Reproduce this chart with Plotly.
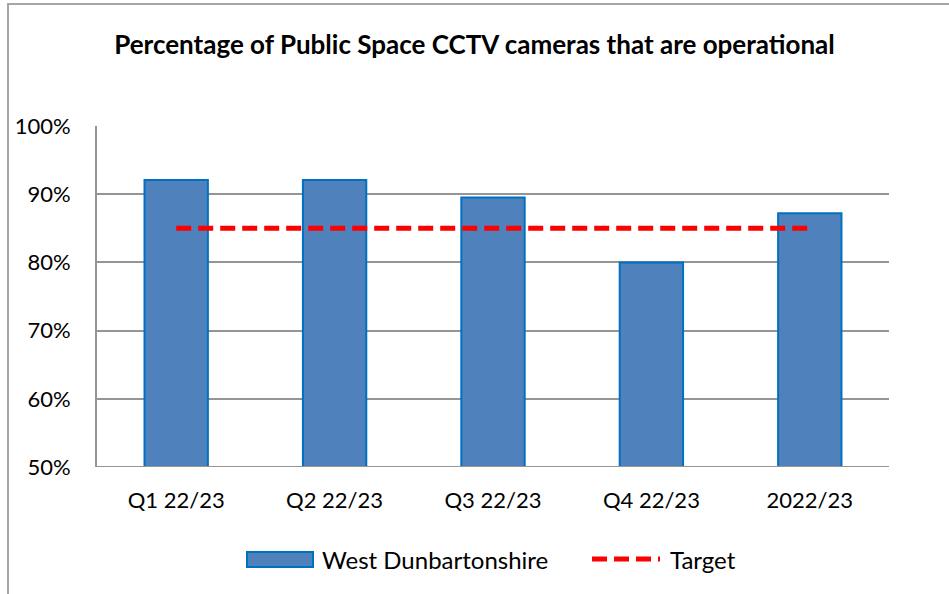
import plotly.graph_objects as go

categories = ["Q1 22/23", "Q2 22/23", "Q3 22/23", "Q4 22/23", "2022/23"]
west_dunbartonshire = [0.921, 0.921, 0.895, 0.80, 0.872]
target = [0.85, 0.85, 0.85, 0.85, 0.85]
y_ticks = [0.5, 0.6, 0.7, 0.8, 0.9, 1.0]
y_tick_labels = ["50%", "60%", "70%", "80%", "90%", "100%"]
series_names = ["West Dunbartonshire", "Target"]

FONT = "Lato, Carlito, Calibri, sans-serif"
BAR_FILL = "#4F81BD"
BAR_EDGE = "#0070C0"
TARGET_COLOR = "#FF0000"
GRID = "#959595"
DASH = "15px,7px"

W, H = 949, 594
L, R, T, B = 97, 60, 126, 127
pw = W - L - R
ph = H - T - B


def px(x):
    return (x - L) / pw


def py(y):
    return (H - B - y) / ph


fig = go.Figure()
fig.add_trace(go.Bar(
    x=categories, y=west_dunbartonshire, name=series_names[0],
    marker=dict(color=BAR_FILL, line=dict(color=BAR_EDGE, width=2)),
    width=0.4, showlegend=False,
))
fig.add_trace(go.Scatter(
    x=categories, y=target, name=series_names[1], mode="lines",
    line=dict(color=TARGET_COLOR, width=5, dash=DASH), showlegend=False,
))

legend_y = 559
shapes = [
    dict(type="line", xref="paper", yref="y", x0=0, x1=1, y0=0.5, y1=0.5,
         line=dict(color=GRID, width=2), layer="above"),
    dict(type="rect", xref="paper", yref="paper",
         x0=px(8), x1=px(W + 10), y0=py(H + 10), y1=py(4),
         line=dict(color="#A6A6A6", width=2), fillcolor="rgba(0,0,0,0)", layer="below"),
    # legend symbols
    dict(type="rect", xref="paper", yref="paper",
         x0=px(247), x1=px(313), y0=py(567), y1=py(552),
         line=dict(color=BAR_EDGE, width=2), fillcolor=BAR_FILL),
    dict(type="line", xref="paper", yref="paper",
         x0=px(592), x1=px(660), y0=py(legend_y), y1=py(legend_y),
         line=dict(color=TARGET_COLOR, width=5, dash=DASH)),
]
annotations = [
    dict(text=series_names[0], xref="paper", yref="paper", x=px(320), y=py(legend_y),
         xanchor="left", yanchor="middle", showarrow=False,
         font=dict(family=FONT, size=24, color="#000000")),
    dict(text=series_names[1], xref="paper", yref="paper", x=px(668), y=py(legend_y),
         xanchor="left", yanchor="middle", showarrow=False,
         font=dict(family=FONT, size=24, color="#000000")),
]

fig.update_layout(
    width=W, height=H,
    margin=dict(l=L, r=R, t=T, b=B),
    paper_bgcolor="white", plot_bgcolor="white",
    font=dict(family=FONT, size=22, color="#000000"),
    title=dict(text="<b>Percentage of Public Space CCTV cameras that are operational</b>",
               x=0.5, xanchor="center", y=1 - 45 / H, yanchor="middle",
               font=dict(family=FONT, size=26, color="#000000")),
    showlegend=False,
    xaxis=dict(showgrid=False, showline=False, ticks="", tickfont=dict(size=22),
               ticklabelstandoff=18, automargin=False),
    yaxis=dict(range=[0.5, 1.0], tickvals=y_ticks, ticktext=y_tick_labels,
               showgrid=True, gridcolor=GRID, gridwidth=2,
               showline=True, linecolor=GRID, linewidth=2,
               zeroline=False, ticks="", tickfont=dict(size=22), ticklabelstandoff=20,
               automargin=False),
    shapes=shapes,
    annotations=annotations,
)

fig.write_html("out.html", config={"displayModeBar": False},
               post_script="document.body.style.margin='0';")
